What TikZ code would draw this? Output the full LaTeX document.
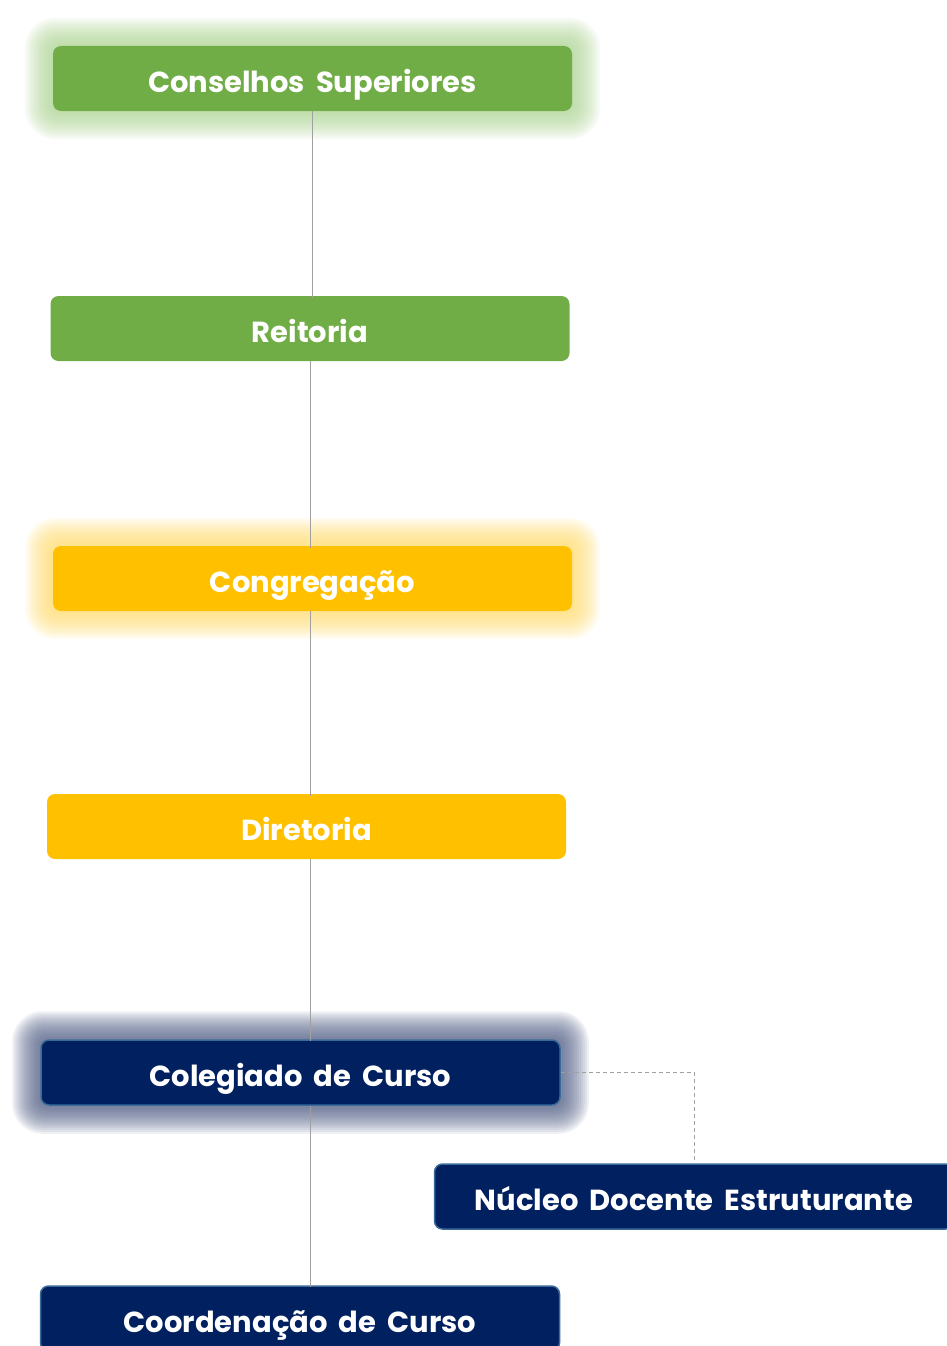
\documentclass[tikz,border=0pt]{standalone}
\usepackage{fontspec}
\setmainfont{Poppins}[WordSpace=1.8]
\usetikzlibrary{calc,backgrounds}
\definecolor{cgreen}{HTML}{70AD47}
\definecolor{cgreenglow}{HTML}{A9D18E}
\definecolor{cyellow}{HTML}{FFC000}
\definecolor{cyellowglow}{HTML}{FFD966}
\definecolor{cnavy}{HTML}{002060}
\definecolor{cnavyborder}{HTML}{3A6A9A}
\definecolor{cnavyglow}{HTML}{4A5880}
\definecolor{cline}{HTML}{A0A0A0}
\tikzset{
  orgbox/.style={rounded corners=8pt, minimum width=519pt, minimum height=65pt,
    inner sep=0pt, text=white, font=\bfseries\fontsize{29}{32}\selectfont,
    text height=28pt, text depth=0pt},
  greenbox/.style={orgbox, fill=cgreen},
  yellowbox/.style={orgbox, fill=cyellow},
  navybox/.style={orgbox, fill=cnavy, draw=cnavyborder, line width=1.5pt},
  link/.style={draw=cline, line width=1pt},
  dlink/.style={draw=cline, line width=1pt, dash pattern=on 4pt off 3pt}
}
\newcommand{\glowbox}[3]{%
  \foreach \i in {1,...,14} {
    \fill[#2, opacity=#3, rounded corners={8pt+\i*1.6pt}]
      ($(#1.north west)+(-\i*2pt,\i*2pt)$) rectangle ($(#1.south east)+(\i*2pt,-\i*2pt)$);
  }%
}
\begin{document}
\begin{tikzpicture}[x=1pt,y=-1pt]
\useasboundingbox (0,0) rectangle (946,1346);
\node[greenbox] (cs) at (312.5,78.5) {Conselhos Superiores};
\node[greenbox] (re) at (310,328.5) {Reitoria};
\node[yellowbox] (co) at (312.5,578.5) {Congregação};
\node[yellowbox] (di) at (306.5,826.5) {Diretoria};
\node[navybox] (cc) at (300.5,1072.5) {Colegiado de Curso};
\node[navybox] (nde) at (694,1196.5) {Núcleo Docente Estruturante};
\node[navybox] (cd) at (300,1318.5) {Coordenação de Curso};
\coordinate (sp1) at (312,0);
\coordinate (sp) at (310,0);
\begin{pgfonlayer}{background}
  \glowbox{cs}{cgreenglow}{0.085}
  \glowbox{co}{cyellowglow}{0.085}
  \glowbox{cc}{cnavyglow}{0.09}
\end{pgfonlayer}
\draw[link] (cs.south -| sp1) -- ($(re.north -| sp1)+(0,-2pt)$);
\draw[link] (re.south -| sp) -- ($(co.north -| sp)+(0,-2pt)$);
\draw[link] (co.south -| sp) -- ($(di.north -| sp)+(0,-2pt)$);
\draw[link] (di.south -| sp) -- ($(cc.north -| sp)+(0,-2pt)$);
\draw[link] (cc.south -| sp) -- ($(cd.north -| sp)+(0,-2pt)$);
\draw[dlink] (cc.east) -| ($(nde.north)+(0,2pt)$);
\end{tikzpicture}
\end{document}
